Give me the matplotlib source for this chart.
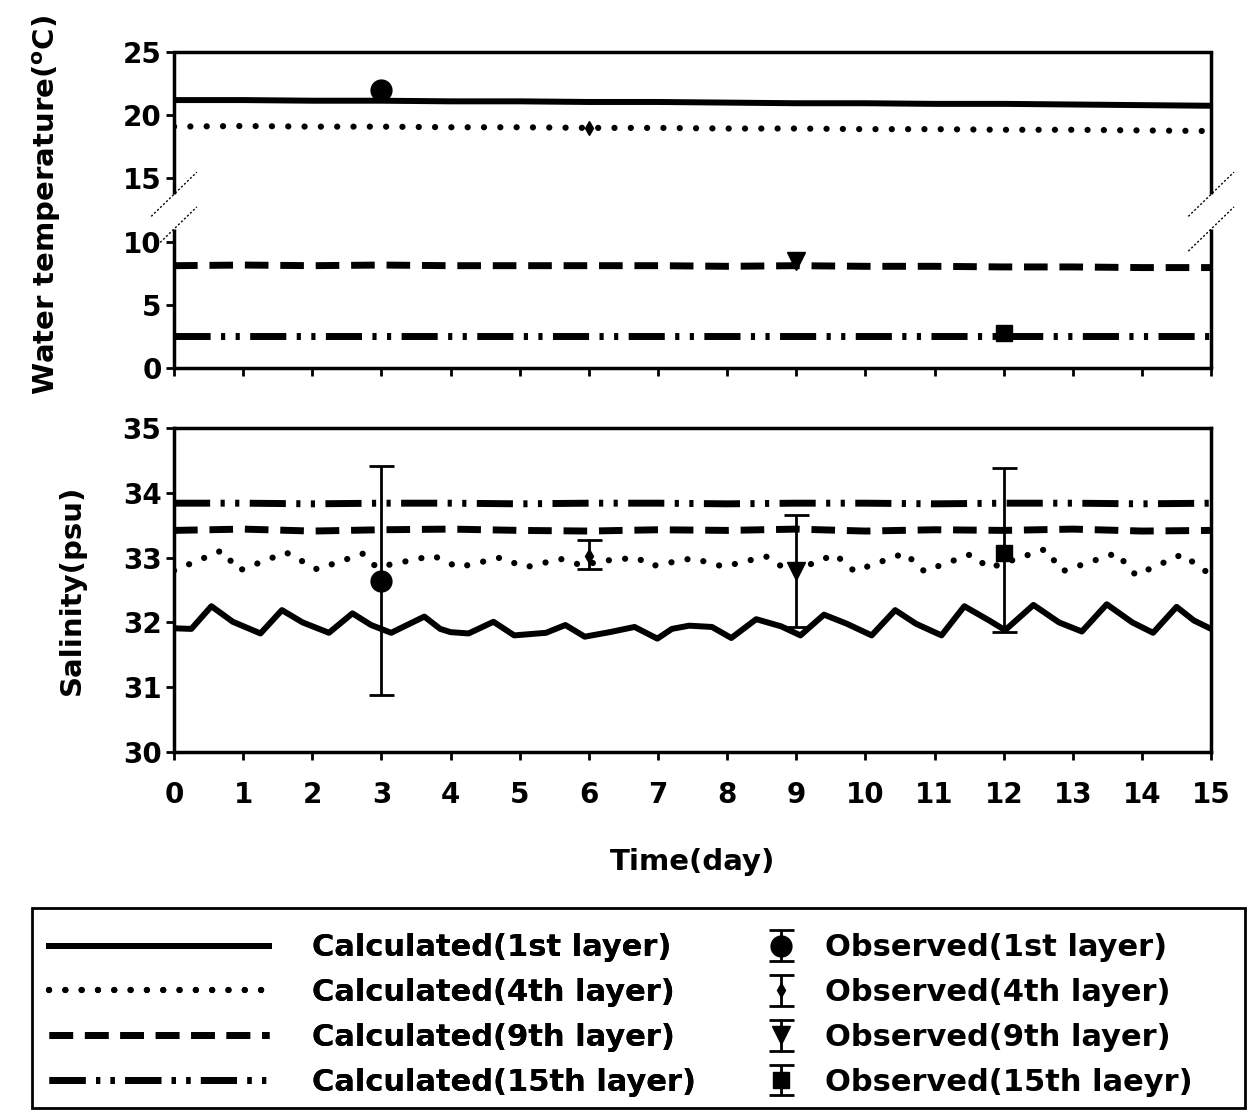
import matplotlib
matplotlib.use("Agg")
import matplotlib.pyplot as plt
from matplotlib.patches import Rectangle
from matplotlib.lines import Line2D

plt.rcParams['font.family'] = ['DejaVu Sans']
plt.rcParams['font.weight'] = 'bold'

# ---------------- data ----------------
temp_days = [0, 1, 2, 3, 4, 5, 6, 7, 8, 9, 10, 11, 12, 13, 14, 15]
temp1 = [21.2, 21.2, 21.15, 21.15, 21.1, 21.1, 21.05, 21.05, 21.0, 20.95, 20.95, 20.9, 20.9, 20.85, 20.8, 20.75]
temp4 = [19.1, 19.15, 19.1, 19.1, 19.05, 19.05, 19.0, 19.0, 18.95, 18.95, 18.9, 18.9, 18.85, 18.85, 18.8, 18.75]
temp9 = [8.1, 8.15, 8.1, 8.15, 8.1, 8.1, 8.1, 8.1, 8.05, 8.1, 8.05, 8.05, 8.0, 8.0, 7.95, 7.95]
temp15 = [2.5, 2.5, 2.5, 2.5, 2.5, 2.5, 2.5, 2.5, 2.5, 2.5, 2.5, 2.5, 2.5, 2.5, 2.5, 2.5]

obs_days = [3, 6, 9, 12]
obs_temp = [22.0, 19.0, 8.5, 2.8]

sal1_t = [0, 0.25, 0.54, 0.85, 1.25, 1.56, 1.86, 2.24, 2.58, 2.85, 3.14, 3.62, 3.85, 4.0, 4.26,
          4.62, 4.92, 5.38, 5.66, 5.94, 6.30, 6.66, 6.99, 7.2, 7.45, 7.78, 8.06, 8.42, 8.78, 9.06,
          9.40, 9.73, 10.09, 10.43, 10.73, 11.10, 11.43, 11.79, 12.02, 12.43, 12.80, 13.13, 13.49,
          13.86, 14.16, 14.50, 14.75, 15.0]
sal1 = [31.91, 31.90, 32.25, 32.01, 31.83, 32.19, 32.00, 31.84, 32.14, 31.96, 31.84, 32.09, 31.90,
        31.85, 31.83, 32.01, 31.80, 31.84, 31.96, 31.78, 31.85, 31.93, 31.75, 31.90, 31.95, 31.93,
        31.76, 32.05, 31.94, 31.80, 32.12, 31.98, 31.80, 32.19, 31.98, 31.80, 32.25, 32.03, 31.88,
        32.27, 32.00, 31.86, 32.28, 32.00, 31.84, 32.24, 32.03, 31.90]

sal4_t = [0, 0.69, 0.94, 1.62, 2.07, 2.73, 2.93, 3.75, 4.11, 4.72, 5.08, 5.59, 5.9, 6.2, 6.69,
          6.91, 7.5, 7.95, 8.56, 8.73, 9.0, 9.56, 9.84, 10.57, 10.85, 11.52, 11.79, 12.60, 12.85,
          13.63, 13.91, 14.58, 15.0]
sal4 = [32.80, 33.11, 32.80, 33.08, 32.82, 33.06, 32.85, 33.03, 32.85, 33.00, 32.85, 32.98, 32.88,
        32.95, 33.00, 32.87, 32.99, 32.86, 33.02, 32.89, 32.81, 33.05, 32.79, 33.07, 32.79, 33.05,
        32.84, 33.13, 32.79, 33.07, 32.73, 33.05, 32.73]

sal_days = [0, 1, 2, 3, 4, 5, 6, 7, 8, 9, 10, 11, 12, 13, 14, 15]
sal9 = [33.42, 33.44, 33.41, 33.43, 33.44, 33.42, 33.41, 33.43, 33.42, 33.44, 33.41, 33.43, 33.42, 33.44, 33.41, 33.42]
sal15 = [33.84, 33.84, 33.83, 33.84, 33.84, 33.83, 33.84, 33.84, 33.83, 33.84, 33.84, 33.83, 33.84, 33.84, 33.83, 33.84]

obs_sal = [32.64, 33.03, 32.79, 33.07]
obs_sal_lo = [30.88, 32.82, 31.93, 31.86]
obs_sal_hi = [34.42, 33.27, 33.65, 34.38]

calc_labels = ['Calculated(1st layer)', 'Calculated(4th layer)', 'Calculated(9th layer)', 'Calculated(15th layer)']
obs_labels = ['Observed(1st layer)', 'Observed(4th layer)', 'Observed(9th layer)', 'Observed(15th laeyr)']
x_ticks = list(range(16))

# ---------------- styles ----------------
styles = [
    dict(ls='-', lw=4.3, solid_joinstyle='round'),
    dict(ls=(0, (0.01, 2.6)), lw=4.5, dash_capstyle='round'),
    dict(ls=(0, (3.4, 1.7)), lw=5.0),
    dict(ls=(0, (5.2, 1.5, 0.6, 1.5, 0.6, 1.5)), lw=5.0),
]
markers = [dict(marker='o', ms=15), dict(marker='d', ms=7), dict(marker='v', ms=13), dict(marker='s', ms=12)]
FS = 20
LFS = 22

fig = plt.figure(figsize=(12.53, 11.12), dpi=100)
ax1 = fig.add_axes([0.1389, 0.669, 0.8277, 0.2842])
ax2 = fig.add_axes([0.1389, 0.3237, 0.8277, 0.2914])

# ---- temperature panel ----
for y, st in zip([temp1, temp4, temp9, temp15], styles):
    ax1.plot(temp_days, y, color='black', **st)
for i in range(4):
    ax1.plot([obs_days[i]], [obs_temp[i]], color='black', ls='none', **markers[i])
ax1.set_xlim(0, 15)
ax1.set_ylim(0, 25)
ax1.set_yticks([0, 5, 10, 15, 20, 25])
ax1.set_xticks(x_ticks)
ax1.set_xticklabels([])
ax1.set_ylabel('Water temperature($\\mathregular{^oC}$)', fontsize=FS + 1, fontweight='bold')
ax1.yaxis.set_label_coords(-0.107, 0.515)

# broken left/right spines
ax1.spines['left'].set_visible(False)
ax1.spines['right'].set_visible(False)
gap_lo, gap_hi = 0.44, 0.55
for xs in (0.0, 1.0):
    ax1.plot([xs, xs], [0, gap_lo], transform=ax1.transAxes, color='black', lw=2.5, clip_on=False,
             solid_capstyle='butt')
    ax1.plot([xs, xs], [gap_hi, 1], transform=ax1.transAxes, color='black', lw=2.5, clip_on=False,
             solid_capstyle='butt')
    for yb in (gap_lo, gap_hi):
        ax1.plot([xs - 0.022, xs + 0.022], [yb - 0.07, yb + 0.07], transform=ax1.transAxes,
                 color='black', lw=1.0, ls=(0, (1.5, 1.5)), clip_on=False)

# ---- salinity panel ----
for xv, y, st in zip([sal1_t, sal4_t, sal_days, sal_days], [sal1, sal4, sal9, sal15], styles):
    ax2.plot(xv, y, color='black', **st)
err_handles = []
for i in range(4):
    lo = obs_sal[i] - obs_sal_lo[i]
    hi = obs_sal_hi[i] - obs_sal[i]
    h = ax2.errorbar([obs_days[i]], [obs_sal[i]], yerr=[[lo], [hi]], color='black', ls='none',
                     capsize=9, elinewidth=2, capthick=2, **markers[i])
    err_handles.append(h)
ax2.set_xlim(0, 15)
ax2.set_ylim(30, 35)
ax2.set_yticks([30, 31, 32, 33, 34, 35])
ax2.set_xticks(x_ticks)
ax2.set_xticklabels([str(v) for v in x_ticks])
ax2.set_ylabel('Salinity(psu)', fontsize=FS + 1, fontweight='bold')
ax2.yaxis.set_label_coords(-0.085, 0.5)
ax2.set_xlabel('Time(day)', fontsize=FS + 1, fontweight='bold', labelpad=28)

for ax in (ax1, ax2):
    for sp in ax.spines.values():
        sp.set_linewidth(2.5)
    ax.tick_params(axis='y', direction='out', length=6, width=2, labelsize=FS, pad=3)
    ax.tick_params(axis='x', direction='out', length=6, width=2, labelsize=FS, pad=15)
    for lab in ax.get_xticklabels() + ax.get_yticklabels():
        lab.set_fontweight('bold')

# ---- legend ----
calc_handles = [Line2D([0], [0], color='black', **st) for st in styles]
leg1 = fig.legend(calc_handles, calc_labels, loc='upper left', bbox_to_anchor=(0.027, 0.1745),
                  frameon=False, handlelength=7.2, handletextpad=1.4,
                  labelspacing=0.52, borderpad=0, prop={'weight': 'bold', 'size': LFS})
leg2 = fig.legend(err_handles, obs_labels, loc='upper left', bbox_to_anchor=(0.594, 0.1745),
                  frameon=False, handlelength=1.4, handletextpad=0.75,
                  labelspacing=0.52, borderpad=0, prop={'weight': 'bold', 'size': LFS})
fig.add_artist(leg1)
fig.patches.append(Rectangle((32 / 1253, 0.0036), (1245 - 32) / 1253, 0.18, transform=fig.transFigure,
                             fill=False, edgecolor='black', lw=2))

fig.savefig('out.png', dpi=100)
